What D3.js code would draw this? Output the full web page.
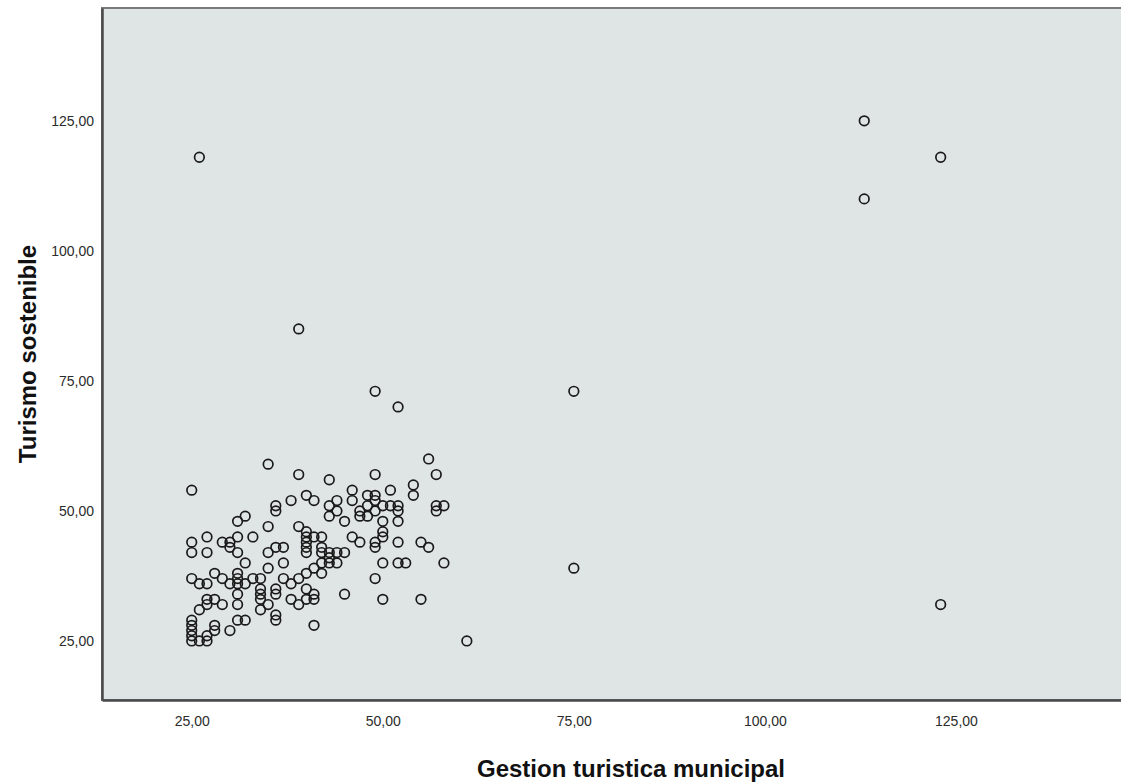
<!DOCTYPE html>
<html>
	<head>
		<meta charset="UTF-8">
		<title></title>
		<style>
			body { margin: 0; background: #fff; }
		</style>
	</head>
	<body>
		<script src="https://d3js.org/d3.v7.min.js" charset="utf-8"></script>
		<script>
		var width = 1121;
		var height = 782;

		// Gestion turistica municipal (x) / Turismo sostenible (y)
		var gestion = [26, 39, 49, 52, 75, 75, 61, 113, 123, 113, 123,
			56, 35, 39, 49, 57, 43, 25, 46, 51, 54, 54,
			38, 40, 41, 36, 36, 43, 43, 44, 44, 45, 46,
			47, 47, 48, 48, 48, 49, 49, 49, 50, 50, 50, 50,
			51, 52, 52, 52, 57, 57, 58, 31, 32, 35, 39,
			40, 40, 40, 40, 40, 41, 42, 42, 42, 41, 42, 42,
			43, 43, 43, 44, 44, 45, 46, 47, 49, 49, 52, 55, 56,
			50, 52, 53, 58, 49, 45, 50, 55, 41,
			25, 25, 27, 27, 29, 30, 30, 31, 31, 33, 32,
			35, 36, 37, 37, 35, 25, 26, 27, 28, 29, 30,
			31, 31, 31, 31, 31, 32, 33, 34, 34, 34, 34, 34,
			35, 36, 36, 37, 38, 39, 40, 40, 41, 41, 38, 39, 40,
			26, 27, 27, 28, 29, 36, 36, 31, 32, 30, 28, 28,
			25, 25, 25, 25, 25, 26, 27, 27];
		var turismo = [118, 85, 73, 70, 73, 39, 25, 125, 118, 110, 32,
			60, 59, 57, 57, 57, 56, 54, 54, 54, 55, 53,
			52, 53, 52, 51, 50, 51, 49, 52, 50, 48, 52,
			50, 49, 53, 51, 49, 53, 52, 50, 51, 48, 46, 45,
			51, 51, 50, 48, 51, 50, 51, 48, 49, 47, 47,
			46, 45, 44, 43, 42, 45, 45, 43, 42, 39, 40, 38,
			41, 40, 42, 42, 40, 42, 45, 44, 44, 43, 44, 44, 43,
			40, 40, 40, 40, 37, 34, 33, 33, 28,
			44, 42, 45, 42, 44, 44, 43, 45, 42, 45, 40,
			42, 43, 43, 40, 39, 37, 36, 36, 38, 37, 36,
			38, 37, 36, 34, 32, 36, 37, 37, 35, 34, 33, 31,
			32, 35, 34, 37, 36, 37, 38, 35, 34, 33, 33, 32, 33,
			31, 33, 32, 33, 32, 30, 29, 29, 29, 27, 28, 27,
			29, 28, 27, 26, 25, 25, 25, 26];

		var xTicks = [25, 50, 75, 100, 125];
		var yTicks = [25, 50, 75, 100, 125];
		var xTitle = "Gestion turistica municipal";
		var yTitle = "Turismo sostenible";

		// el area de grafico sigue mas alla del borde derecho
		var plot = { left: 102, top: 8, right: 1160, bottom: 700 };

		var svg = d3.select("body").append("svg")
			.attr("width", width)
			.attr("height", height)
			.style("display", "block");

		var x = d3.scaleLinear()
			.domain([13.26, 151.7])
			.range([plot.left, plot.right]);
		var y = d3.scaleLinear()
			.domain([13.65, 146.7])
			.range([plot.bottom, plot.top]);

		var fmt = function(d) { return d3.format(".2f")(d).replace(".", ","); };

		// fondo del area de grafico
		svg.append("rect")
			.attr("x", plot.left)
			.attr("y", plot.top)
			.attr("width", plot.right - plot.left)
			.attr("height", plot.bottom - plot.top)
			.attr("fill", "#dfe4e4")
			.attr("stroke", "#7a7a7a")
			.attr("stroke-width", 2);

		// ejes sin marcas, solo etiquetas
		var xAxis = svg.append("g")
			.attr("transform", "translate(0," + plot.bottom + ")")
			.call(d3.axisBottom(x).tickValues(xTicks).tickFormat(fmt).tickSize(0).tickPadding(16));
		var yAxis = svg.append("g")
			.attr("transform", "translate(" + plot.left + ",0)")
			.call(d3.axisLeft(y).tickValues(yTicks).tickFormat(fmt).tickSize(0).tickPadding(8));
		[xAxis, yAxis].forEach(function(g) {
			g.select(".domain").attr("stroke", "#4a4a4a").attr("stroke-width", 2.5);
			g.selectAll("text")
				.attr("fill", "#2b2b2b")
				.style("font-family", "'Liberation Sans', Arial, sans-serif")
				.style("font-size", "14px");
		});

		var points = gestion.map(function(g, i) { return { gx: g, ty: turismo[i] }; });

		svg.append("g")
			.selectAll("circle")
			.data(points)
			.enter()
			.append("circle")
			.attr("cx", function(d) { return x(d.gx); })
			.attr("cy", function(d) { return y(d.ty); })
			.attr("r", 4.8)
			.attr("fill", "none")
			.attr("stroke", "#1a1a1a")
			.attr("stroke-width", 1.7);

		svg.append("text")
			.attr("x", (plot.left + plot.right) / 2)
			.attr("y", 777)
			.attr("text-anchor", "middle")
			.style("font-family", "'Liberation Sans', Arial, sans-serif")
			.style("font-weight", "bold")
			.style("font-size", "24px")
			.attr("fill", "#111")
			.text(xTitle);

		svg.append("text")
			.attr("transform", "translate(36," + (plot.top + plot.bottom) / 2 + ") rotate(-90)")
			.attr("text-anchor", "middle")
			.style("font-family", "'Liberation Sans', Arial, sans-serif")
			.style("font-weight", "bold")
			.style("font-size", "24px")
			.attr("fill", "#111")
			.text(yTitle);
		</script>
	</body>
</html>
